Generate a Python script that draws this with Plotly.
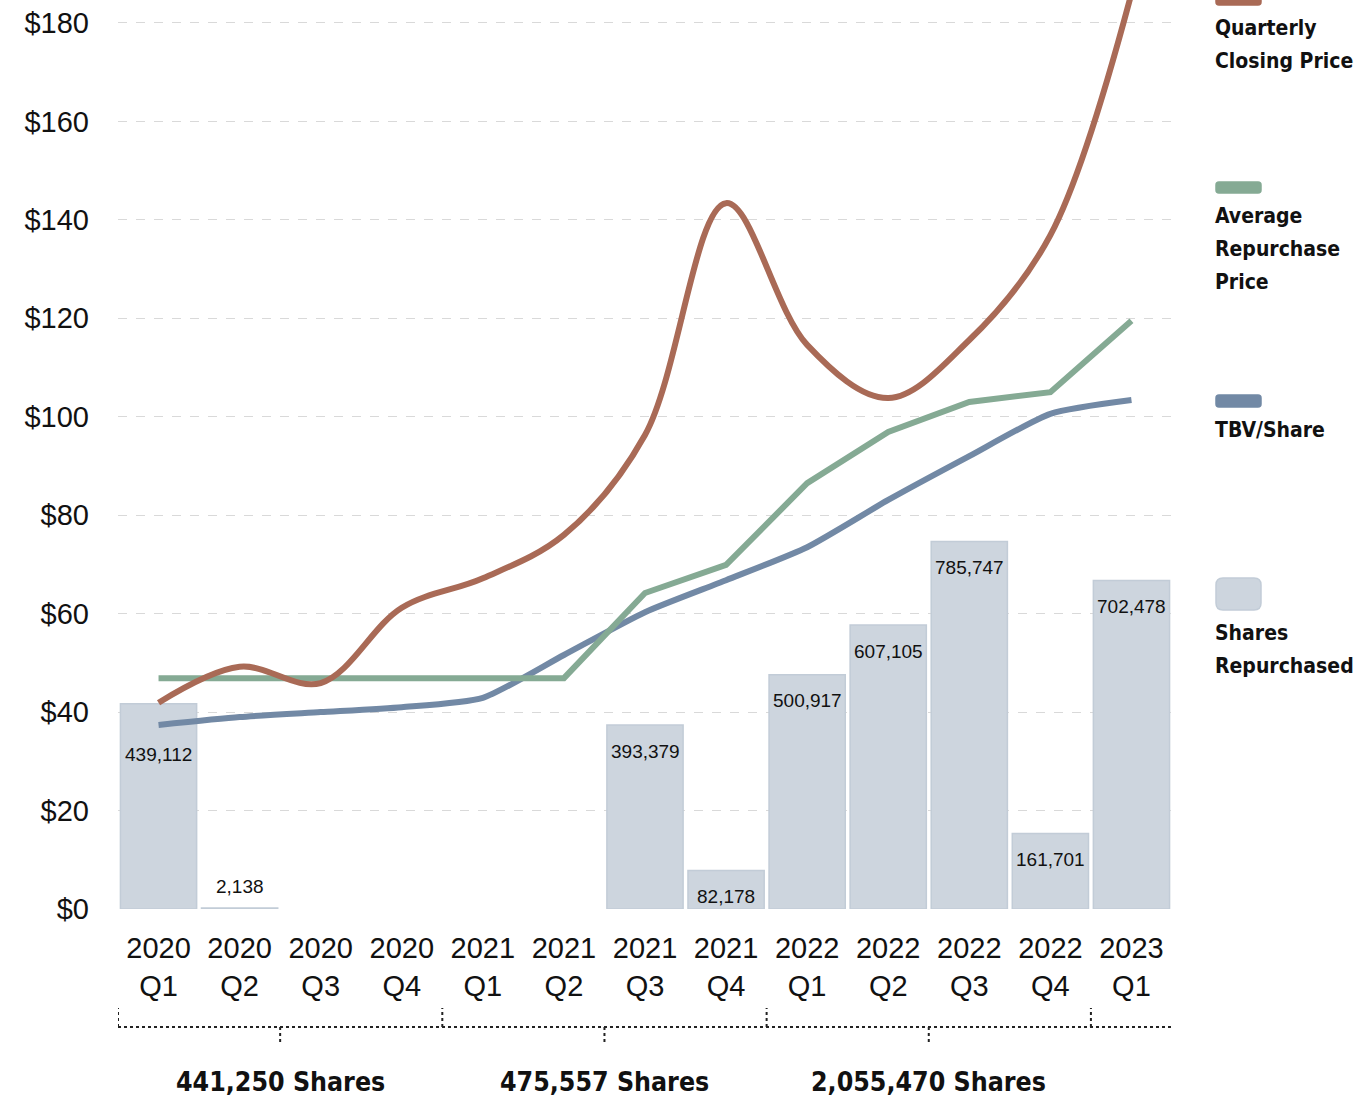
import plotly.graph_objects as go

# Quarter labels
years = ["2020", "2020", "2020", "2020", "2021", "2021", "2021", "2021",
         "2022", "2022", "2022", "2022", "2023"]
quarters = ["Q1", "Q2", "Q3", "Q4", "Q1", "Q2", "Q3", "Q4",
            "Q1", "Q2", "Q3", "Q4", "Q1"]

# Series ($ per share)
closing_price = [41.9, 49.2, 45.9, 61.2, 67.2, 76.0, 96.3, 143.4,
                 114.6, 103.8, 115.6, 136.9, 186.0]
avg_repurchase_price = [46.9, 46.9, 46.9, 46.9, 46.9, 46.9, 64.2, 69.9,
                        86.5, 96.9, 103.0, 105.0, 119.5]
tbv_per_share = [37.4, 39.0, 40.0, 41.0, 42.9, 51.6, 60.3, 66.8,
                 73.5, 83.1, 92.0, 100.6, 103.4]

# Shares repurchased per quarter
shares_repurchased = [439112, 2138, 0, 0, 0, 0, 393379, 82178,
                      500917, 607105, 785747, 161701, 702478]

# Yearly groups (index ranges) for the bracket totals
groups = [(0, 3), (4, 7), (8, 11)]

RED = "#A96A56"
GREEN = "#85AA94"
BLUE = "#7289A5"
BAR = "#CDD5DE"
BAR_EDGE = "#C2CCD7"

COND = "DejaVu Sans Condensed"
cats = [f"{y}<br>{q}" for y, q in zip(years, quarters)]

# pixel geometry helpers
W, H = 1369, 1098
L, R, T, B = 118, 1172, 0, 909
def px_x(px):
    return (px - L) / (R - L)
def px_y(py):
    return (B - py) / (B - T)

ymax = 184.67
y2max = ymax / 190 * 2_000_000

fig = go.Figure()

# bars on the primary axis so the price lines (overlay axis) sit on top
fig.add_trace(go.Bar(
    x=cats, y=shares_repurchased, yaxis="y",
    marker=dict(color=BAR, line=dict(
        color=BAR_EDGE, width=[1.5 if v > 0 else 0 for v in shares_repurchased])),
    name="Shares Repurchased", showlegend=False, hoverinfo="skip",
))

fig.add_trace(go.Scatter(
    x=cats, y=tbv_per_share, mode="lines", yaxis="y2",
    line=dict(color=BLUE, width=6, shape="spline", smoothing=0.6),
    name="TBV/Share", showlegend=False,
))
fig.add_trace(go.Scatter(
    x=cats, y=avg_repurchase_price, mode="lines", yaxis="y2",
    line=dict(color=GREEN, width=6),
    name="Average Repurchase Price", showlegend=False,
))
fig.add_trace(go.Scatter(
    x=cats, y=closing_price, mode="lines", yaxis="y2",
    line=dict(color=RED, width=6, shape="spline", smoothing=1.0),
    name="Quarterly Closing Price", showlegend=False,
))

annotations = []

# Bar value labels
for i, v in enumerate(shares_repurchased):
    if v == 0:
        continue
    if i == 0:
        shift = -51
    elif v < 20000:
        shift = 22
    else:
        shift = -26
    annotations.append(dict(
        x=cats[i], y=v, yref="y", xref="x", text=f"{v:,}", showarrow=False,
        yshift=shift, font=dict(family="Liberation Sans", size=19, color="#111"),
    ))

# Group totals under the bracket
bracket_y = px_y(1027)
up_y = px_y(1008)
down_y = px_y(1045)
shapes = []
line_style = dict(color="#222", width=2, dash="dot")
shapes.append(dict(type="line", xref="x", yref="paper", x0=-0.5, x1=12.5,
                   y0=bracket_y, y1=bracket_y, line=line_style))
for b in [-0.5, 3.5, 7.5, 11.5]:
    shapes.append(dict(type="line", xref="x", yref="paper", x0=b, x1=b,
                       y0=bracket_y, y1=up_y, line=line_style))
for a, b in groups:
    c = (a + b) / 2
    shapes.append(dict(type="line", xref="x", yref="paper", x0=c, x1=c,
                       y0=bracket_y, y1=down_y, line=line_style))
    total = sum(shares_repurchased[a:b + 1])
    annotations.append(dict(
        x=c, xref="x", y=px_y(1081), yref="paper", yanchor="middle",
        text=f"<b>{total:,} Shares</b>", showarrow=False,
        font=dict(family=COND, size=26.5, color="#111"),
    ))


def rounded_rect(x0, y0, x1, y1, r):
    """SVG path for a rounded rectangle given in pixel coordinates."""
    pts = [
        (x0 + r, y0), (x1 - r, y0), (x1, y0), (x1, y0 + r),
        (x1, y1 - r), (x1, y1), (x1 - r, y1), (x0 + r, y1),
        (x0, y1), (x0, y1 - r), (x0, y0 + r), (x0, y0), (x0 + r, y0),
    ]
    p = [(px_x(a), px_y(b)) for a, b in pts]
    return (f"M{p[0][0]},{p[0][1]} L{p[1][0]},{p[1][1]} "
            f"Q{p[2][0]},{p[2][1]} {p[3][0]},{p[3][1]} "
            f"L{p[4][0]},{p[4][1]} Q{p[5][0]},{p[5][1]} {p[6][0]},{p[6][1]} "
            f"L{p[7][0]},{p[7][1]} Q{p[8][0]},{p[8][1]} {p[9][0]},{p[9][1]} "
            f"L{p[10][0]},{p[10][1]} Q{p[11][0]},{p[11][1]} {p[12][0]},{p[12][1]} Z")


# Legend swatches and labels on the right (one annotation per text line)
legend_items = [
    (["Quarterly", "Closing Price"], RED, -7, 5, 28),
    (["Average", "Repurchase", "Price"], GREEN, 182, 193, 216),
    (["TBV/Share"], BLUE, 395, 407, 430),
    (["Shares", "Repurchased"], BAR, 578, 610, 633),
]
for lines, col, top, bot, first_mid in legend_items:
    r = 7 if col == BAR else 3
    shapes.append(dict(
        type="path", xref="paper", yref="paper",
        path=rounded_rect(1216, top, 1261, bot, r), fillcolor=col,
        line=dict(color=BAR_EDGE if col == BAR else col, width=1.5),
        layer="above",
    ))
    for k, txt in enumerate(lines):
        annotations.append(dict(
            x=px_x(1216), xref="paper", y=px_y(first_mid + 33 * k),
            yref="paper", xanchor="left", yanchor="middle", align="left",
            text=f"<b>{txt}</b>", showarrow=False, xshift=-3,
            font=dict(family=COND, size=21, color="#111"),
        ))

fig.update_layout(
    width=W, height=H,
    margin=dict(l=L, r=W - R, t=T, b=H - B),
    paper_bgcolor="white", plot_bgcolor="white",
    bargap=0.06,
    showlegend=False,
    xaxis=dict(
        type="category", range=[-0.5, 12.5], showgrid=False, showline=False,
        ticks="", tickfont=dict(family="Liberation Sans", size=29, color="#111"),
        ticklabelstandoff=19,
    ),
    yaxis=dict(
        range=[0, y2max], showgrid=False, showticklabels=False,
        zeroline=False, showline=False,
    ),
    yaxis2=dict(
        range=[0, ymax], dtick=20, tickprefix="$", overlaying="y", side="left",
        showline=False, zeroline=False, gridcolor="#D9D9D9", griddash="dash",
        gridwidth=1,
        tickfont=dict(family="Liberation Sans", size=29, color="#111"),
        ticklabelstandoff=28,
    ),
    shapes=shapes,
    annotations=annotations,
)

fig.write_html("out.html")
